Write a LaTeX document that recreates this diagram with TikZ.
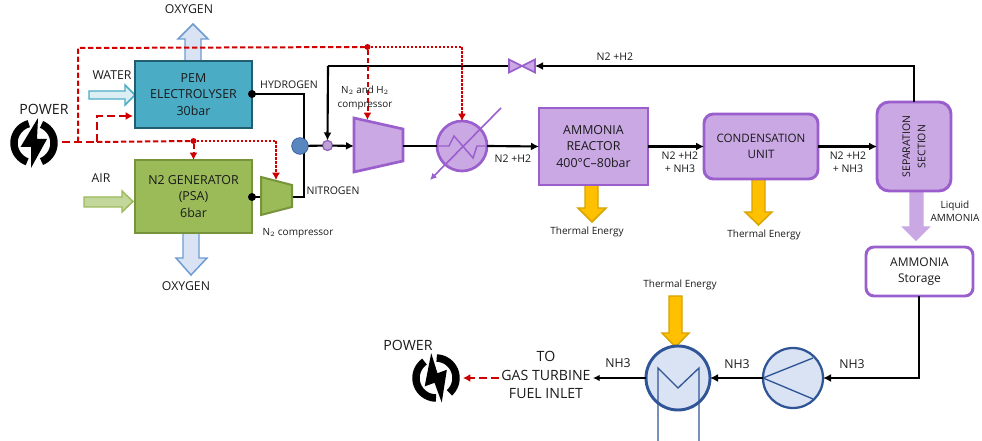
\documentclass[tikz,border=0pt]{standalone}
\usepackage{fontspec}
\setmainfont{Open Sans}
\usetikzlibrary{arrows.meta}
\definecolor{pemfill}{HTML}{4BACC6}
\definecolor{pemline}{HTML}{215E70}
\definecolor{genfill}{HTML}{9BBB59}
\definecolor{genline}{HTML}{77933C}
\definecolor{purfill}{HTML}{C9A8E4}
\definecolor{purline}{HTML}{9A5FCC}
\definecolor{hxfill}{HTML}{D9E3F3}
\definecolor{hxline}{HTML}{2F5597}
\definecolor{oxline}{HTML}{6C9BD2}
\definecolor{wfill}{HTML}{DAEEF3}
\definecolor{afill}{HTML}{C3D69B}
\definecolor{yel}{HTML}{FFC000}
\definecolor{yelline}{HTML}{D9A300}
\definecolor{redl}{HTML}{D00000}
\definecolor{txt}{HTML}{1A1A1A}
\tikzset{
  x=0.75pt,y=-0.75pt,
  every node/.style={inner sep=0pt,outer sep=0pt,text=txt,align=center},
  box/.style={draw,line width=2.2pt,minimum width=#1,font=\fontsize{9.3}{12.5}\selectfont},
  lab/.style={font=\fontsize{9.2}{10}\selectfont},
  slab/.style={font=\fontsize{7.9}{10}\selectfont},
  tlab/.style={font=\fontsize{7.5}{10}\selectfont},
  flow/.style={draw=black,line width=1.6pt,-{Latex[length=6pt,width=6pt]}},
  flowp/.style={draw=black,line width=1.6pt},
  redA/.style={draw=redl,line width=2.2pt,dash pattern=on 6pt off 3pt},
  redB/.style={draw=redl,line width=1.5pt,dash pattern=on 4pt off 2pt},
  redC/.style={draw=redl,line width=.8pt,dash pattern=on 2pt off 1pt},
  tipr/.style={-{Latex[length=5.5pt,width=6pt]}},
  dotb/.style={circle,fill=black,minimum size=6pt},
  dotr/.style={circle,fill=redl,minimum size=4.5pt},
  barr/.style={line width=1.1pt,line join=miter},
  pics/powericon/.style={code={
    \fill[black] (4,-25) -- (-13.5,4) -- (-3,4) -- (-3,25) -- (13,-4) -- (3,-4) -- cycle;
    \draw[black,line width=5.6pt] plot[smooth,domain=105:250,samples=20] ({20*cos(\x)},{-20*sin(\x)});
    \draw[black,line width=5.6pt] plot[smooth,domain=-68:68,samples=20] ({20*cos(\x)},{-20*sin(\x)});
  }}
}
\begin{document}
\begin{tikzpicture}
\useasboundingbox (0,0) rectangle (982,441);
% block arrows
\draw[barr,fill=hxfill,draw=oxline] (185,61) -- (185,39) -- (178,39) -- (193,24) -- (208,39) -- (201,39) -- (201,61) -- cycle;
\draw[barr,fill=hxfill,draw=oxline] (183,233) -- (183,258) -- (176,258) -- (191,275) -- (207,258) -- (199,258) -- (199,233) -- cycle;
\draw[barr,fill=wfill,draw=pemfill] (89,91) -- (125,91) -- (125,85) -- (135,95) -- (125,105) -- (125,99) -- (89,99) -- cycle;
\draw[barr,fill=afill,draw=genfill] (84,197) -- (122,197) -- (122,191) -- (133,201.500) -- (122,212) -- (122,207) -- (84,207) -- cycle;
\draw[barr,fill=yel,draw=yelline] (585,185) -- (585,208) -- (578,208) -- (592,222) -- (606,208) -- (598,208) -- (598,185) -- cycle;
\draw[barr,fill=yel,draw=yelline] (752,179) -- (752,212) -- (745,212) -- (758.500,225) -- (772,212) -- (765,212) -- (765,179) -- cycle;
\draw[barr,fill=yel,draw=yelline] (669,296) -- (669,333) -- (662,333) -- (675.500,347) -- (689,333) -- (682,333) -- (682,296) -- cycle;
\draw[barr,fill=purfill,draw=purfill] (910,191) -- (910,227) -- (903,227) -- (916,240) -- (929,227) -- (923,227) -- (923,191) -- cycle;
% process nodes
\node[box=117*0.75pt,minimum height=67*0.75pt,fill=pemfill,draw=pemline] (pem) at (193.5,94.5) {PEM\\ELECTROLYSER\\30bar};
\node[box=117*0.75pt,minimum height=73*0.75pt,fill=genfill,draw=genline] (gen) at (193.5,196.5) {N2 GENERATOR\\(PSA)\\6bar};
\node[box=109*0.75pt,minimum height=77*0.75pt,fill=purfill,draw=purline] (reactor) at (593.5,146.5) {AMMONIA\\REACTOR\\400°C–80bar};
\node[box=114*0.75pt,minimum height=65*0.75pt,fill=purfill,draw=purline,rounded corners=7pt,font=\fontsize{8.7}{11.5}\selectfont] (cond) at (761,146.5) {CONDENSATION\\UNIT};
\node[box=74*0.75pt,minimum height=89*0.75pt,fill=purfill,draw=purline,rounded corners=9pt] (sep) at (914,146.5) {};
\node[font=\fontsize{7.9}{11.5}\selectfont,rotate=90] at (sep.center) {SEPARATION\\SECTION};
\node[box=107*0.75pt,minimum height=49*0.75pt,fill=white,draw=purline,rounded corners=6pt,font=\fontsize{9}{12.5}\selectfont] (store) at (919.5,271.5) {AMMONIA\\Storage};
% coordinates
\coordinate (pemout) at (252,94);
\coordinate (h2a) at (304,94);
\coordinate (genout) at (252,197);
\coordinate (n2in) at (261,197);
\coordinate (n2out) at (292,197);
\coordinate (n2b) at (304,197);
\coordinate (comprin) at (354,146);
\coordinate (comprout) at (403,146);
\coordinate (recT) at (914,66);
\coordinate (recL) at (328,66);
\coordinate (stb) at (919,378);
% black lines
\draw[flowp] (pemout) -| (h2a) -- (n2b) -- (n2out);
\draw[flowp] (genout) -- (n2in);
\node[dotb] (d1) at (pemout) {};
\node[dotb] (d2) at (genout) {};
\fill[genfill,draw=genline,line width=1.5pt] (261,177) -- (292,185) -- (292,207) -- (261,215) -- cycle;
\node[circle,fill=oxline!70!hxline,draw=hxline,line width=.5pt,minimum size=12.5pt] (mix) at (300,146) {};
\node[circle,fill=purfill!85!gray,draw=purline!80!gray,line width=1pt,minimum size=7.500pt] (jn) at (327.500,145.500) {};
\draw[flowp] (mix) -- (jn);
\draw[flow] (jn) -- (comprin);
% recycle
\draw[flow] (sep.north) -- (recT) -- (535,66);
\draw[flowp] (509,66) -- (recL);
\draw[flow] (recL) -- (jn.north);
\fill[purfill,draw=purline,line width=1.2pt] (509,59.500) -- (535,72.500) -- (535,59.500) -- (509,72.500) -- cycle;
% compressor
\fill[purfill,draw=purline,line width=2pt] (354,118) -- (403,129) -- (403,161) -- (354,172) -- cycle;
% exchanger
\node[circle,fill=purfill,draw=purline,line width=2pt,minimum size=37.500pt] (hx) at (462,146) {};
\draw[purline,line width=1.1pt] (hx.west) -- (449,146) -- (454,136) -- (473,158) -- (477,146) -- (hx.east);
\draw[flowp] (comprout) -- (hx.west);
\draw[flow] (hx.east) -- (reactor.west);
\draw[purline,line width=1.2pt,-{Latex[length=5pt,width=5pt]}] (501,108) -- (430,180);
\draw[flow] (reactor.east) -- (cond.west);
\draw[flow] (cond.east) -- (sep.west);
% storage to pump
\node[circle,fill=hxfill,draw=hxline,line width=1.7pt,minimum size=45pt] (pump) at (793,378) {};
\node[circle,fill=hxfill,draw=hxline,line width=2.2pt,minimum size=48pt] (vap) at (678,378) {};
\draw[hxline,line width=1pt] (pump.west) -- (813,358);
\draw[hxline,line width=1pt] (pump.west) -- (813,399);
\coordinate (vapA) at (658,441);
\coordinate (vapB) at (699,441);
\draw[hxline,line width=1pt] (vapA) -- (658,368) -- (678,388) -- (699,368) -- (vapB);
\draw[flow] (store.south -| stb) -- (stb) -- (pump.east);
\draw[flow] (pump.west) -- (vap.east);
\node (fuel) at (546,375) [font=\fontsize{10.6}{14}\selectfont] {TO\\GAS TURBINE\\FUEL INLET};
\draw[draw=black,line width=1.2pt,-{Latex[length=5pt,width=5pt]}] (vap.west) -- (593,378);
% power
\pic at (34,143) {powericon};
\pic[rotate=20] at (436,378) {powericon};
\coordinate (pw) at (62,142);
\coordinate (pj) at (78,142);
\coordinate (pk) at (97,142);
\coordinate (pm) at (193.500,141);
% red lines
\coordinate (pt) at (367.500,47);
\draw[redA] (pw) -- (pk);
\draw[redA,tipr] (pk) -- (97,116) -- (133,116);
\draw[redB] (pj) -- (78,48) -- (pt);
\draw[redB] (pk) -- (pm);
\node[dotr] (d3) at (pm) {};
\node[dotr] (d4) at (pt) {};
\draw[redB,tipr] (d3) -- (gen.north -| d3);
\draw[redC,tipr] (d3) -- (276,141) -- (276,180);
\draw[redB,tipr] (d4) -- (367.500,120);
\draw[redC,tipr] (d4) -- (462,47) -- (hx.north);
\draw[redA,tipr] (499,378) -- (463,378);
% labels
\node[lab] (t1) at (189,9) {OXYGEN};
\node[lab] (t2) at (186,286) {OXYGEN};
\node[lab] (t3) at (112,75) {WATER};
\node[lab] (t4) at (101,178) {AIR};
\node[font=\fontsize{10.6}{10}\selectfont] (t5) at (44,109) {POWER};
\node[font=\fontsize{10.6}{10}\selectfont] (t6) at (408,345) {POWER};
\node[slab] (t7) at (289,85) {HYDROGEN};
\node[slab] (t8) at (333,191) {NITROGEN};
\node[tlab] (t9) at (298,233) {N$_2$ compressor};
\node[tlab,font=\fontsize{7.4}{10.5}\selectfont] (t10) at (365,98) {N$_2$ and H$_2$\\compressor};
\node[slab] (t11) at (513,159) {N2 +H2};
\node[slab] (t12) at (615,57) {N2 +H2};
\node[slab] (t13) at (680,162) {N2 +H2\\+ NH3};
\node[slab] (t14) at (848,162) {N2 +H2\\+ NH3};
\node[tlab] (t15) at (587,232) {Thermal Energy};
\node[tlab] (t16) at (764,235) {Thermal Energy};
\node[tlab] (t17) at (680,285) {Thermal Energy};
\node[tlab,font=\fontsize{7.5}{9.8}\selectfont] (t18) at (955,211.500) {Liquid\\AMMONIA};
\node[lab] (t19) at (852,364) {NH3};
\node[lab] (t20) at (737,364) {NH3};
\node[lab] (t21) at (618,363) {NH3};
\end{tikzpicture}
\end{document}
